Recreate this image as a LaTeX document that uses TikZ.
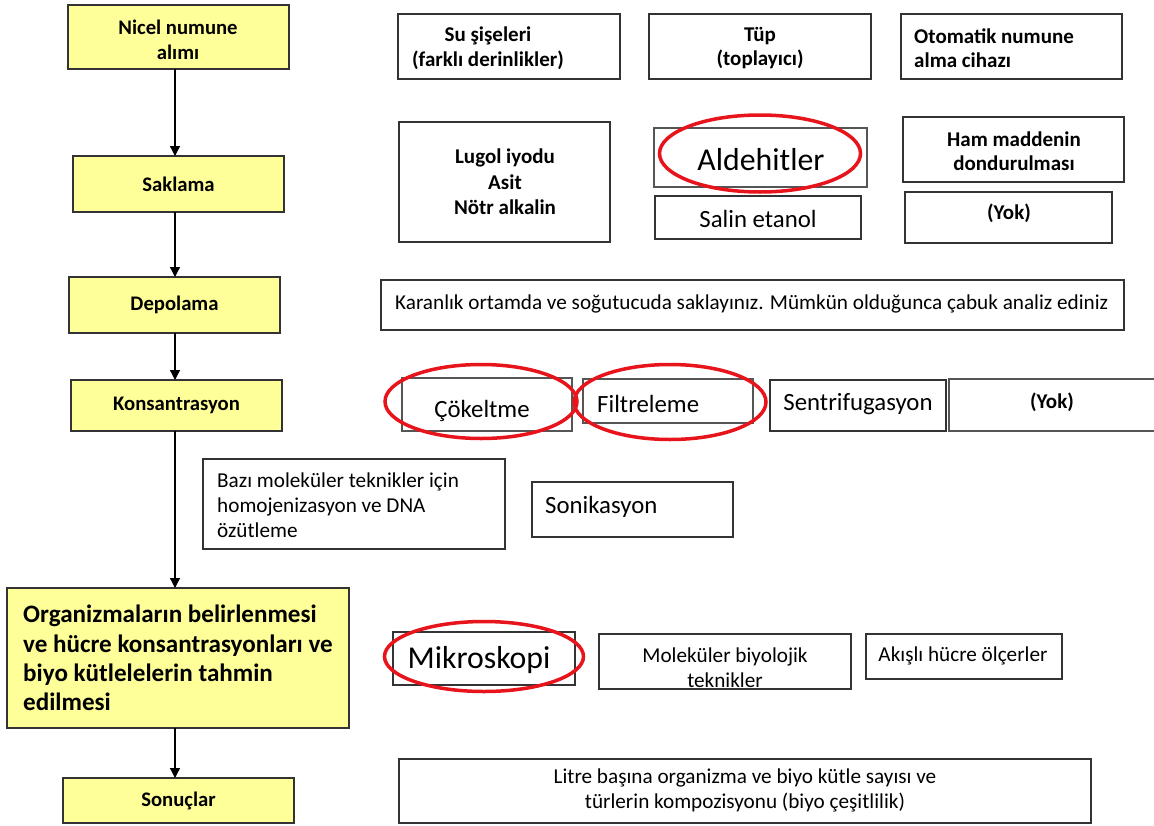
\documentclass[tikz,border=0pt]{standalone}
\usepackage{fontspec}
\setmainfont{Carlito}
\usetikzlibrary{arrows.meta,shapes.geometric}
\definecolor{ylw}{HTML}{FFFF99}
\definecolor{bord}{HTML}{333333}
\definecolor{gbord}{HTML}{555555}
\definecolor{ringred}{HTML}{E8141B}
\newcommand\mybox[6]{\node[#1, minimum width={(#5-#3)*1pt}, minimum height={(#6-#4)*1pt}] (#2) at ({(#3+#5)/2},{(#4+#6)/2}) {};}
\newcommand\fs[2]{\fontsize{#1}{#2}\selectfont}
\begin{document}
\begin{tikzpicture}[x=1pt,y=-1pt,
  ybox/.style={draw=bord, fill=ylw, line width=1.5pt, inner sep=0pt, outer sep=0pt, font=\bfseries\fs{20.7}{25}, align=center},
  wbox/.style={draw=bord, line width=1.5pt, inner sep=0pt, outer sep=0pt},
  gbox/.style={draw=gbord, line width=2.4pt, inner sep=0pt, outer sep=0pt},
  txt/.style={inner sep=0pt, align=center},
  ltxt/.style={inner sep=0pt, align=left, anchor=west},
  btxt/.style={font=\bfseries\fs{21}{24.5}},
  stxt/.style={font=\fs{21.2}{25}},
  mtxt/.style={font=\fs{24.8}{28}},
  ltxtf/.style={font=\fs{31.8}{36}},
  ring/.style={draw=ringred, line width=3.5pt, ellipse, inner sep=0pt},
  arr/.style={draw=black, line width=1.3pt, -{Triangle[width=10pt,length=10pt]}}]
\useasboundingbox (0,0) rectangle (1154,825);
\fill[white] (0,0) rectangle (1154,825);
\coordinate (ax) at (175,0);
% left column
\node[ybox, minimum width=221pt, minimum height=64pt] (n1) at (178.5,37) {};
\node[txt, font=\bfseries\fs{20.7}{25}] (n1t) at (178,40) {Nicel numune\\alımı};
\node[ybox, minimum width=211pt, minimum height=56pt] (n2) at (178.5,184) {Saklama};
\node[ybox, minimum width=211pt, minimum height=56pt] (n3) at (174.5,305) {Depolama};
\node[ybox, minimum width=211pt, minimum height=51pt] (n4) at (176.5,405.5) {Konsantrasyon};
\node[ybox, minimum width=342pt, minimum height=140pt, font=\bfseries\fs{25.1}{29.3}, align=left] (n5) at (178,658) {Organizmaların belirlenmesi\\ve hücre konsantrasyonları ve\\biyo kütlelelerin tahmin\\edilmesi};
\node[ybox, minimum width=231pt, minimum height=45pt] (n6) at (178.5,800.5) {Sonuçlar};
\draw[arr] (n1.south -| ax) -- (n2.north -| ax);
\draw[arr] (n2.south -| ax) -- (n3.north -| ax);
\draw[arr] (n3.south -| ax) -- (n4.north -| ax);
\draw[arr] (n4.south -| ax) -- (n5.north -| ax);
\draw[arr] (n5.south -| ax) -- (n6.north -| ax);
% row 1
\mybox{wbox}{r1a}{398}{14}{620}{79}
\mybox{wbox}{r1b}{649}{14}{871}{79}
\mybox{wbox}{r1c}{901}{14}{1122}{79}
\node[txt, btxt] (t1a) at (488,48) {Su şişeleri\\(farklı derinlikler)};
\node[txt, btxt] (t1b) at (760,48) {Tüp\\(toplayıcı)};
\node[ltxt, btxt] (t1c) at (914,48) {Otomatik numune\\alma cihazı};
% row 2
\mybox{wbox}{r2a}{399}{122}{610}{242}
\mybox{gbox}{r2b}{654}{128}{867}{187}
\mybox{wbox}{r2c}{655}{196}{861}{239}
\mybox{wbox}{r2d}{903}{117}{1124}{182}
\mybox{wbox}{r2e}{905}{192}{1112}{243}
\node[txt, btxt, font=\bfseries\fs{21}{25.5}] (t2a) at (505,182) {Lugol iyodu\\Asit\\Nötr alkalin};
\node[txt, ltxtf] (t2b) at (761,160) {Aldehitler};
\node[txt, mtxt] (t2c) at (758,219) {Salin etanol};
\node[txt, btxt] (t2d) at (1014,151) {Ham maddenin\\dondurulması};
\node[txt, btxt] (t2e) at (1009,213) {(Yok)};
\node[ring, minimum width=201pt, minimum height=77pt] (e1) at (760,153.5) {};
% row 3
\mybox{wbox}{r3}{381}{280}{1124}{330}
\node[ltxt, stxt] (t3) at (395,304) {Karanlık ortamda ve soğutucuda saklayınız. Mümkün olduğunca çabuk analiz ediniz};
% row 4
\mybox{gbox}{r4a}{402}{378}{572}{431}
\mybox{gbox}{r4b}{583}{379}{753}{423}
\mybox{wbox}{r4c}{770}{380}{946}{431}
\mybox{gbox}{r4d}{949}{379}{1160}{431}
\node[txt, mtxt] (t4a) at (482,411) {Çökeltme};
\node[ltxt, mtxt] (t4b) at (597,404) {Filtreleme};
\node[txt, mtxt] (t4c) at (858,404) {Sentrifugasyon};
\node[txt, btxt] (t4d) at (1052,402) {(Yok)};
\node[ring, minimum width=192pt, minimum height=74pt] (e2) at (481,401.5) {};
\node[ring, minimum width=192pt, minimum height=75pt] (e3) at (670,402) {};
% row 5
\mybox{wbox}{r5a}{203}{459}{505}{549}
\mybox{wbox}{r5b}{532}{482}{733}{537}
\node[ltxt, stxt] (t5a) at (217,505) {Bazı moleküler teknikler için\\homojenizasyon ve DNA\\özütleme};
\node[ltxt, mtxt] (t5b) at (545,507) {Sonikasyon};
% row 6
\mybox{wbox}{r6a}{393}{632}{575}{685}
\mybox{wbox}{r6b}{599}{634}{851}{689}
\mybox{wbox}{r6c}{866}{634}{1062}{679}
\node[txt, ltxtf] (t6a) at (479,660) {Mikroskopi};
\node[txt, stxt] (t6b) at (725,668) {Moleküler biyolojik\\teknikler};
\node[txt, stxt] (t6c) at (963,656) {Akışlı hücre ölçerler};
\node[ring, minimum width=199pt, minimum height=70pt] (e4) at (484,656.5) {};
% row 7
\mybox{wbox}{r7}{399}{759}{1091}{823}
\node[txt, stxt] (t7) at (745,790) {Litre başına organizma ve biyo kütle sayısı ve\\türlerin kompozisyonu (biyo çeşitlilik)};
\end{tikzpicture}
\end{document}
